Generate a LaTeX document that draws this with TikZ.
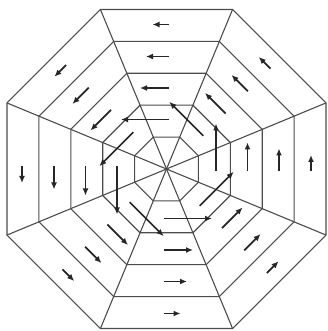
\documentclass[tikz,border=0pt]{standalone}
\usetikzlibrary{arrows.meta}
\begin{document}
\begin{tikzpicture}[x=1pt,y=1pt,
  gridline/.style={draw=black!70, line width=1.1pt, line join=miter},
  flowarrow/.style={draw=black!85, line width=1.7pt, -{Latex[length=7pt,width=6pt]}}]
\useasboundingbox (-166.5,-162) rectangle (160.5,169);
\def\apo{31.9}
\pgfmathsetmacro{\circf}{1/cos(22.5)}
\coordinate (c) at (0,0);
% concentric octagons
\foreach \k in {1,...,5}{
  \foreach \i in {0,...,7}{
    \coordinate (v\k-\i) at ({22.5+45*\i}:{\k*\apo*\circf});
  }
  \draw[gridline] (v\k-0) -- (v\k-1) -- (v\k-2) -- (v\k-3) -- (v\k-4) -- (v\k-5) -- (v\k-6) -- (v\k-7) -- cycle;
}
% spokes
\foreach \i in {0,...,7}{
  \draw[gridline] (c) -- (v5-\i);
}
% flow arrows (counter-clockwise vortex)
\foreach \k/\r/\L in {5/144.5/16.5, 4/112.5/23, 3/81/29, 2/49.5/48}{
  \foreach \i in {0,...,7}{
    \pgfmathsetmacro{\th}{45*\i}
    \path (\th:\r) ++({\th+90}:-2.5) coordinate (t\k-\i) ++({\th+90}:\L) coordinate (h\k-\i);
    \draw[flowarrow] (t\k-\i) -- (h\k-\i);
  }
}
\end{tikzpicture}
\end{document}
